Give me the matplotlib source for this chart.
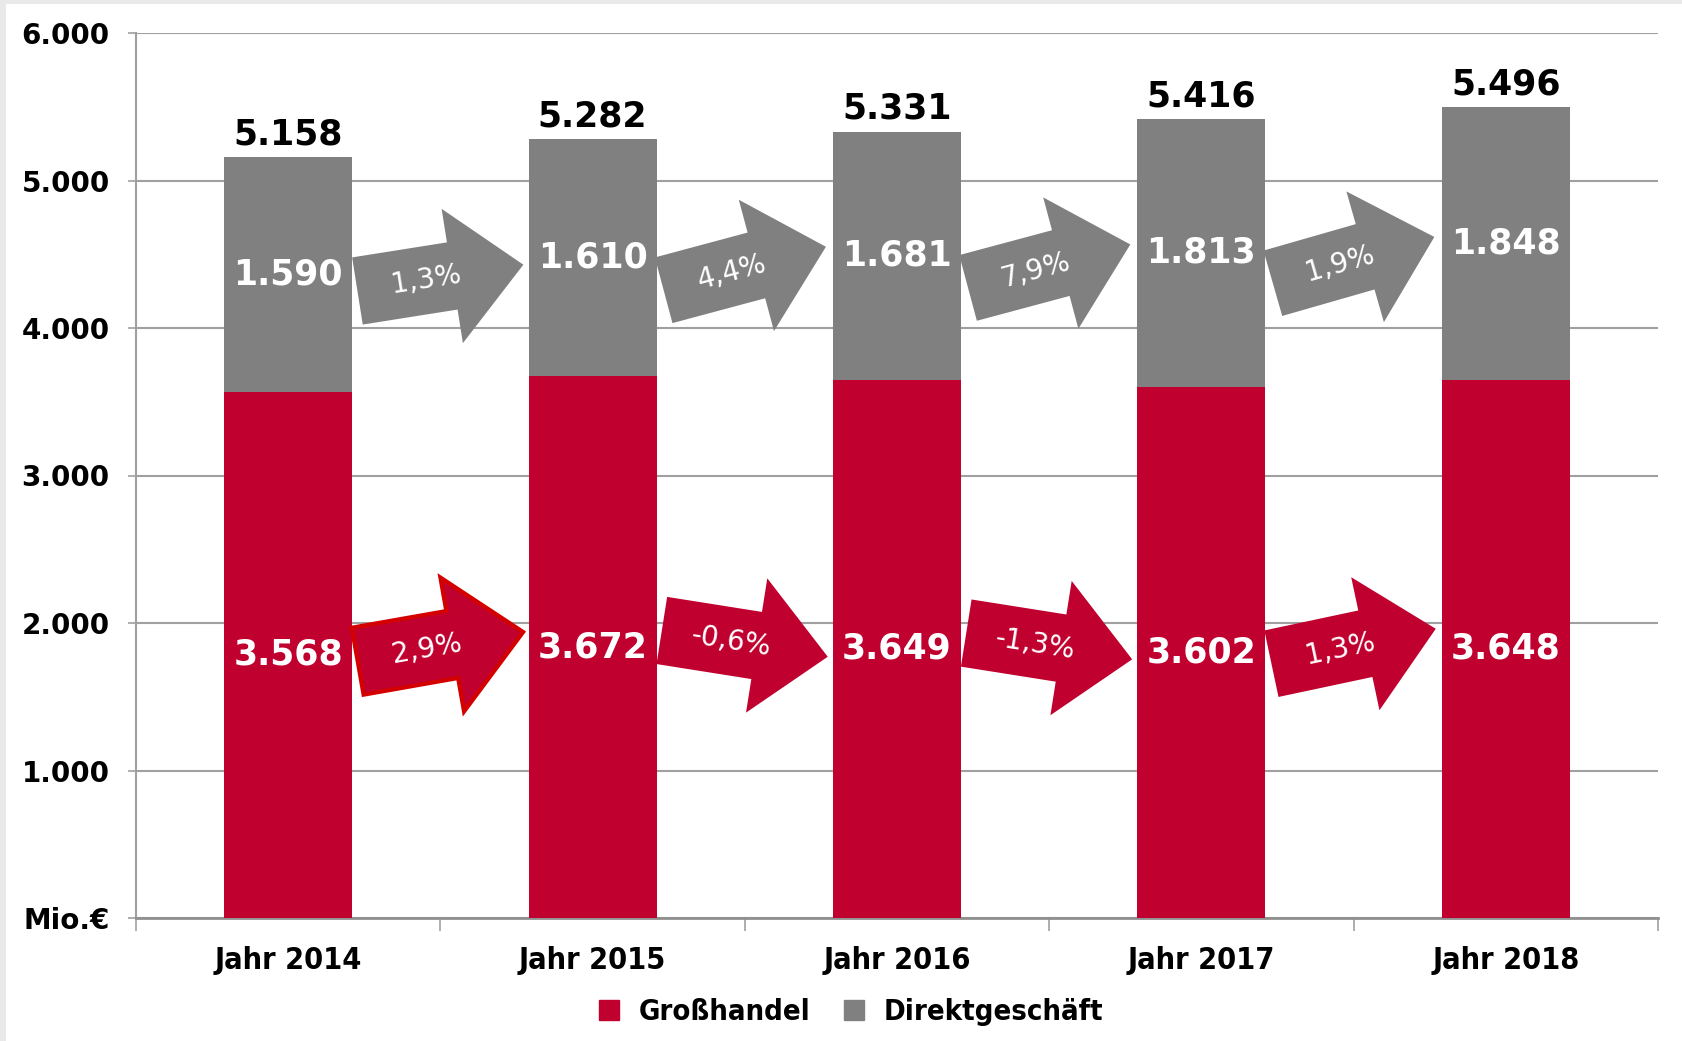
import matplotlib.pyplot as plt
import matplotlib.transforms as mtransforms
from matplotlib.patches import Polygon, Rectangle
from matplotlib.lines import Line2D
import numpy as np

# Daten
jahre = ["Jahr 2014", "Jahr 2015", "Jahr 2016", "Jahr 2017", "Jahr 2018"]
grosshandel = [3568, 3672, 3649, 3602, 3648]
direkt = [1590, 1610, 1681, 1813, 1848]
gesamt = [5158, 5282, 5331, 5416, 5496]
pct_direkt = ["1,3%", "4,4%", "7,9%", "1,9%"]
pct_gross = ["2,9%", "-0,6%", "-1,3%", "1,3%"]
winkel_direkt = [9, 15, 15, 16]
winkel_gross = [10, -9, -9, 12]

ROT = "#C0002F"
GRAU = "#808080"

fig = plt.figure(figsize=(16.83, 10.41), dpi=100, facecolor="#e9e9e9")
fig.patches.append(Rectangle((6 / 1683, 0), 1, 1 - 4 / 1041, transform=fig.transFigure,
                             facecolor="white", edgecolor="none", zorder=-5))
ax = fig.add_axes([136 / 1683, 123 / 1041, 1522 / 1683, 885 / 1041])
ax.set_facecolor("white")
ax.set_zorder(2)

x = np.arange(len(jahre))
breite = 0.42
ax.bar(x, grosshandel, breite, color=ROT, label="Großhandel", zorder=3)
ax.bar(x, direkt, breite, bottom=grosshandel, color=GRAU, label="Direktgeschäft", zorder=3)

ax.set_xlim(-0.5, 4.5)
ax.set_ylim(0, 6000)
ax.set_yticks(np.arange(0, 6001, 1000))
ax.set_yticklabels(["Mio.€", "1.000", "2.000", "3.000", "4.000", "5.000", "6.000"],
                   fontsize=20, fontweight="bold")
ax.grid(axis="y", color="#a0a0a0", linewidth=1.5, zorder=0)
ax.tick_params(axis="y", length=6, width=1.2, color="#a0a0a0", pad=13)

ax.set_xticks(x)
ax.set_xticklabels(jahre, fontsize=22, fontweight="bold", fontstretch="condensed")
ax.set_xticks(np.arange(-0.5, 5, 1), minor=True)
ax.tick_params(axis="x", which="major", length=0, pad=20)
ax.tick_params(axis="x", which="minor", length=9, width=1.2, color="#a0a0a0")

for s in ["top", "right"]:
    ax.spines[s].set_visible(False)
ax.spines["left"].set_color("#a0a0a0")
ax.spines["left"].set_linewidth(1.5)
ax.spines["bottom"].set_color("#909090")
ax.spines["bottom"].set_linewidth(2)

# Werte beschriften
for i in range(len(jahre)):
    ax.text(x[i], gesamt[i] + 40, f"{gesamt[i]:,}".replace(",", "."), ha="center", va="bottom",
            fontsize=25, fontweight="bold", color="black")
    ax.text(x[i], grosshandel[i] + direkt[i] / 2, f"{direkt[i]:,}".replace(",", "."),
            ha="center", va="center", fontsize=25, fontweight="bold", color="white", zorder=5)
    ax.text(x[i], grosshandel[i] / 2, f"{grosshandel[i]:,}".replace(",", "."),
            ha="center", va="center", fontsize=25, fontweight="bold", color="white", zorder=5)

# Pfeile (Form in Pixeln)
pfeil = np.array([(-84, -34), (12, -34), (12, -68), (84, 0), (12, 68), (12, 34), (-84, 34)])


def zeichne_pfeil(xc, yc, winkel, farbe, text, kante=None):
    tr = mtransforms.Affine2D().rotate_deg(winkel) + mtransforms.ScaledTranslation(xc, yc, ax.transData)
    p = Polygon(pfeil, closed=True, facecolor=farbe, edgecolor=kante or "none",
                linewidth=3 if kante else 0, transform=tr, zorder=4)
    ax.add_patch(p)
    off = mtransforms.Affine2D().rotate_deg(winkel).transform((-14, 0))
    ax.annotate(text, xy=(xc, yc), xycoords="data", xytext=(off[0] * 0.72, off[1] * 0.72),
                textcoords="offset points", ha="center", va="center", rotation=winkel,
                rotation_mode="anchor", fontsize=20, color="white", zorder=6)


for i in range(4):
    yg = (grosshandel[i] + direkt[i] / 2 + grosshandel[i + 1] + direkt[i + 1] / 2) / 2 - 80
    zeichne_pfeil(i + 0.5, yg, winkel_direkt[i], GRAU, pct_direkt[i])
    yr = (grosshandel[i] / 2 + grosshandel[i + 1] / 2) / 2 + 30
    zeichne_pfeil(i + 0.5, yr, winkel_gross[i], ROT, pct_gross[i],
                  kante="#d40000" if i == 0 else None)

griffe = [Line2D([], [], marker="s", linestyle="none", markersize=14, color=ROT),
          Line2D([], [], marker="s", linestyle="none", markersize=14, color=GRAU)]
fig.legend(griffe, ["Großhandel", "Direktgeschäft"], loc="center", bbox_to_anchor=(0.5, 0.028),
           ncol=2, frameon=False, handletextpad=0.0, columnspacing=0.5,
           prop={"weight": "bold", "size": 21, "stretch": "condensed"})

fig.savefig("out.png", dpi=100, facecolor=fig.get_facecolor())
